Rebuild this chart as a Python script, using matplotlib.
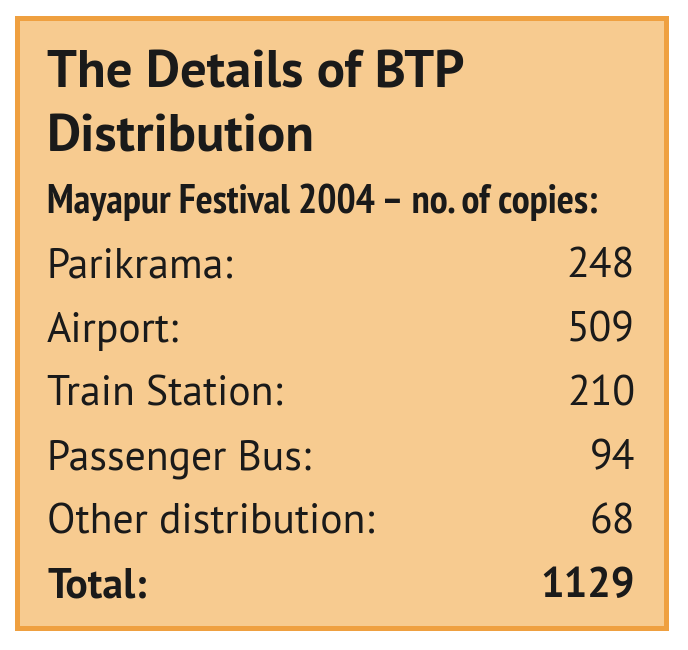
import matplotlib
matplotlib.use('Agg')
import matplotlib.pyplot as plt
from matplotlib import font_manager
from matplotlib.patches import Rectangle

# 表格数据
title_lines = ['The Details of BTP', 'Distribution']
subtitle = 'Mayapur Festival 2004 – no. of copies:'
categories = ['Parikrama:', 'Airport:', 'Train Station:', 'Passenger Bus:', 'Other distribution:']
copies = [248, 509, 210, 94, 68]
total_label = 'Total:'
total_value = 1129


def pick_font(names):
    # 取第一个同时有常规体和粗体的字体
    for name in names:
        weights = [f.weight for f in font_manager.fontManager.ttflist if f.name == name]
        weights = [w if isinstance(w, int) else 700 if w == 'bold' else 400 for w in weights]
        if weights and max(weights) >= 600 and min(weights) <= 500:
            return name
    return 'DejaVu Sans'


main_font = pick_font(['PT Sans', 'Source Sans 3', 'Lato'])
narrow_font = pick_font(['PT Sans Narrow', 'Fira Sans Condensed', 'Asap Condensed', 'Lato'])

W, H = 688, 650
fig = plt.figure(figsize=(W / 100, H / 100), dpi=100)
ax = fig.add_axes([0, 0, 1, 1])
ax.set_xlim(0, W)
ax.set_ylim(H, 0)
ax.axis('off')

fill = '#F7CB90'
edge = '#EFA040'
ink = '#1A1A1A'

# 外框
ax.add_patch(Rectangle((16.5, 17.5), 649, 610, facecolor=fill, edgecolor=edge, linewidth=3.6))

left = 47
right = 635

# 标题
ax.text(left, 88, title_lines[0], fontsize=38, fontweight='bold', family=main_font,
        color=ink, va='baseline', ha='left')
ax.text(left, 152, title_lines[1], fontsize=38, fontweight='bold', family=main_font,
        color=ink, va='baseline', ha='left')
ax.text(left, 213, subtitle, fontsize=29, fontweight='bold', family=narrow_font,
        color=ink, va='baseline', ha='left')

# 各行
y0 = 278
step = 63.8
for i, (cat, val) in enumerate(zip(categories, copies)):
    y = y0 + i * step
    ax.text(left, y, cat, fontsize=30, family=main_font, color=ink, va='baseline', ha='left')
    ax.text(right, y, str(val), fontsize=30, family=main_font, color=ink, va='baseline', ha='right')

y = y0 + len(categories) * step
ax.text(left, y, total_label, fontsize=30, fontweight='bold', family=main_font,
        color=ink, va='baseline', ha='left')
ax.text(right, y, str(total_value), fontsize=30, fontweight='bold', family=main_font,
        color=ink, va='baseline', ha='right')

fig.savefig('out.png', dpi=100, facecolor='white')
